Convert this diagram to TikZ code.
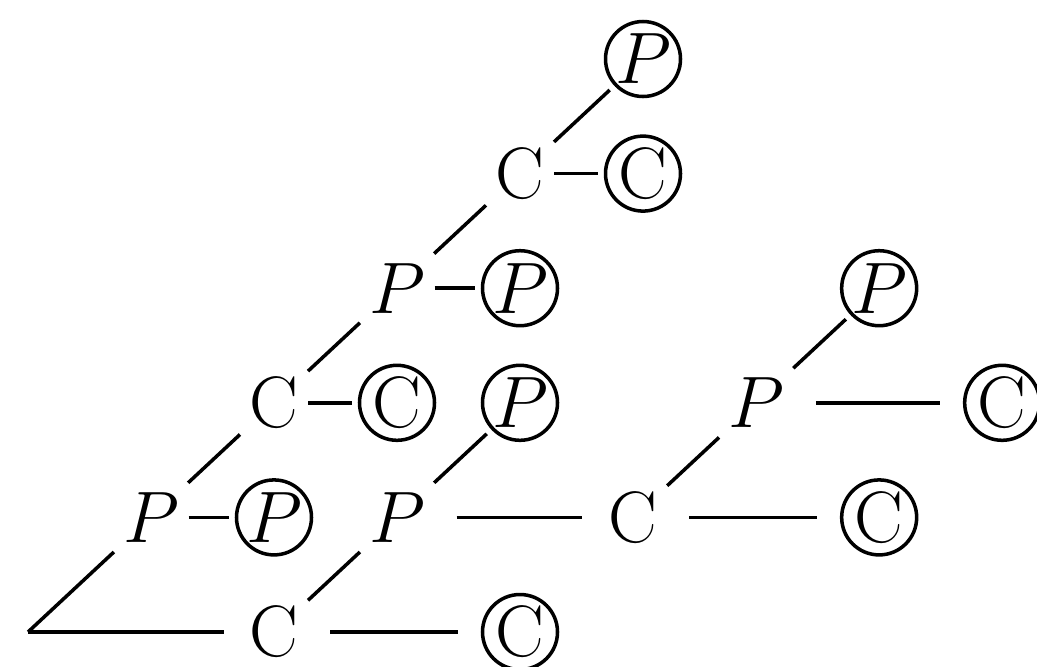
\documentclass[tikz,border=0pt]{standalone}
\usepackage{tikz}
\tikzset{
  vertex/.style={
    inner sep = 0.09cm,
    font = \fontsize{20.74}{25}\selectfont
  },
  leaf/.style={
    shape = circle,
    draw,
    line width = 1pt,
    minimum size = 0.75cm,
    inner sep = 0pt,
    outer sep = 0.08cm,
    font = \fontsize{20.74}{25}\selectfont
  },
  bond/.style={
    line width = 1pt
  },
  longbond/.style={
    bond,
    shorten <= 0.22cm,
    shorten >= 0.17cm
  }
}
\begin{document}
\begin{tikzpicture}[x=1.23cm,y=1.146cm]
  \useasboundingbox (-0.28cm,-0.34cm) rectangle (10.09cm,6.32cm);
  \coordinate (root) at (0,0);
  % left spine
  \node[vertex] (p1) at (1,1) {$P$};
  \node[vertex] (c1) at (2,2) {$\mathrm{C}$};
  \node[vertex] (p2) at (3,3) {$P$};
  \node[vertex] (c2) at (4,4) {$\mathrm{C}$};
  \node[leaf] (lp1) at (2,1) {$P$};
  \node[leaf] (lc1) at (3,2) {$\mathrm{C}$};
  \node[leaf] (lp2) at (4,3) {$P$};
  \node[leaf] (lc2) at (5,4) {$\mathrm{C}$};
  \node[leaf] (lp3) at (5,5) {$P$};
  % bottom branch
  \node[vertex] (cb) at (2,0) {$\mathrm{C}$};
  \node[leaf] (lcb) at (4,0) {$\mathrm{C}$};
  \node[vertex] (pb) at (3,1) {$P$};
  \node[leaf] (lpb) at (4,2) {$P$};
  % right branch
  \node[vertex] (cm) at (4.92,1) {$\mathrm{C}$};
  \node[leaf] (lcm) at (6.92,1) {$\mathrm{C}$};
  \node[vertex] (pr) at (5.92,2) {$P$};
  \node[leaf] (lpr) at (6.92,3) {$P$};
  \node[leaf] (lcr) at (7.92,2) {$\mathrm{C}$};

  \foreach \a/\b in {root/p1,p1/c1,c1/p2,p2/c2,c2/lp3,
                     p1/lp1,c1/lc1,p2/lp2,c2/lc2,
                     cb/pb,pb/lpb,cm/pr,pr/lpr}{
    \draw[bond] (\a) -- (\b);
  }
  \foreach \a/\b in {cb/lcb,pb/cm,cm/lcm,pr/lcr}{
    \draw[longbond] (\a) -- (\b);
  }
  \draw[bond,shorten >= 0.16cm] (root) -- (cb);
\end{tikzpicture}
\end{document}
